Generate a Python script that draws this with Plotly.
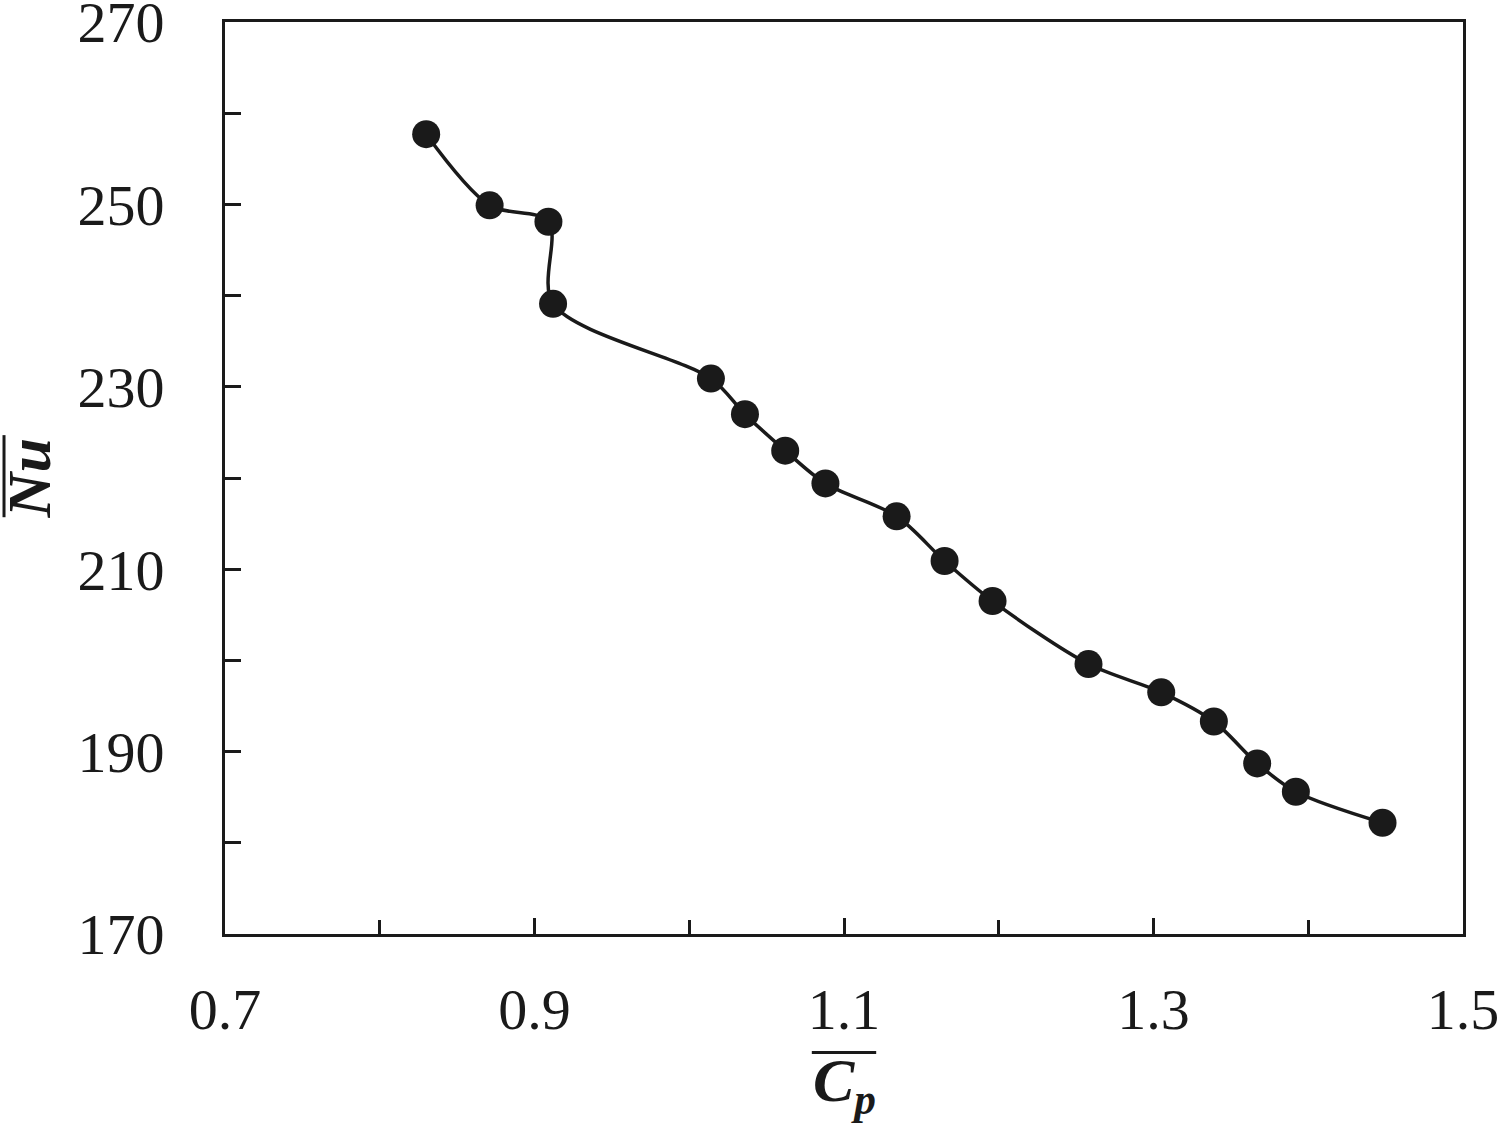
import plotly.graph_objects as go

# mean pressure coefficient vs mean Nusselt number
cp_mean = [0.830, 0.871, 0.909, 0.912, 1.014, 1.036, 1.062, 1.088, 1.134,
           1.165, 1.196, 1.258, 1.305, 1.339, 1.367, 1.392, 1.448]
nu_mean = [257.7, 249.9, 248.1, 239.1, 230.9, 227.0, 223.0, 219.4, 215.8,
           210.9, 206.5, 199.6, 196.5, 193.3, 188.7, 185.6, 182.2]

x_ticks = [0.7, 0.9, 1.1, 1.3, 1.5]
y_ticks = [170, 190, 210, 230, 250, 270]

FONT = "Liberation Serif"
INK = "#1a1a1a"

fig = go.Figure()
fig.add_trace(
    go.Scatter(
        x=cp_mean,
        y=nu_mean,
        mode="lines+markers",
        line=dict(color=INK, width=3.5, shape="spline", smoothing=0.9),
        marker=dict(size=28, color=INK),
        showlegend=False,
    )
)

axis_common = dict(
    showgrid=False,
    zeroline=False,
    showline=True,
    linecolor=INK,
    linewidth=3,
    mirror=True,
    ticks="inside",
    ticklen=16,
    tickwidth=3,
    tickcolor=INK,
    automargin=False,
    ticklabeloverflow="allow",
    tickfont=dict(family=FONT, size=58, color=INK),
)

fig.update_layout(
    width=1500,
    height=1123,
    margin=dict(l=225, r=37, t=22, b=189),
    plot_bgcolor="white",
    paper_bgcolor="white",
    xaxis=dict(
        range=[0.7, 1.5],
        tickvals=x_ticks,
        ticktext=[f"{v:.1f}" for v in x_ticks],
        ticklabelstandoff=22,
        minor=dict(dtick=0.1, tick0=0.7, ticks="inside", ticklen=14, tickwidth=3, tickcolor=INK),
        **axis_common,
    ),
    yaxis=dict(
        range=[170, 270],
        tickvals=y_ticks,
        ticktext=[str(v) for v in y_ticks],
        ticklabelstandoff=46,
        minor=dict(dtick=10, tick0=170, ticks="inside", ticklen=16, tickwidth=3, tickcolor=INK),
        **axis_common,
    ),
    annotations=[
        dict(
            text="<b><i>C<sub>p</sub></i></b>",
            xref="paper", yref="paper", x=0.5, y=-0.165,
            xanchor="center", yanchor="middle",
            showarrow=False, font=dict(family=FONT, size=62, color=INK),
        ),
        dict(
            text="<b><i>Nu</i></b>",
            xref="paper", yref="paper", x=-0.158, y=0.5, textangle=-90,
            xanchor="center", yanchor="middle",
            showarrow=False, font=dict(family=FONT, size=62, color=INK),
        ),
    ],
    # overbars for the two axis titles (mean values)
    shapes=[
        dict(
            type="line", xref="paper", yref="paper",
            x0=0.474, x1=0.526, y0=-0.130, y1=-0.130,
            line=dict(color=INK, width=3),
        ),
        dict(
            type="line", xref="paper", yref="paper",
            x0=-0.1785, x1=-0.1785, y0=0.457, y1=0.547,
            line=dict(color=INK, width=3),
        ),
    ],
)

fig.write_html(
    "out.html",
    config={"displayModeBar": False},
    post_script="document.body.style.margin = '0';",
)
